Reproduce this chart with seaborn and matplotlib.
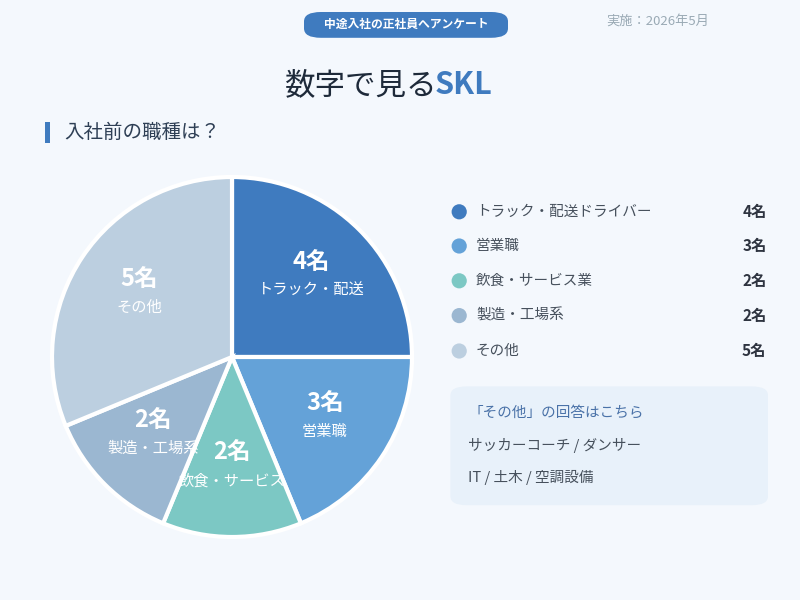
import numpy as np
import matplotlib
matplotlib.use("Agg")
import matplotlib.pyplot as plt
from matplotlib.patches import FancyBboxPatch, Ellipse
import seaborn as sns

categories = ["トラック・配送ドライバー", "営業職", "飲食・サービス業", "製造・工場系", "その他"]
short_labels = ["トラック・配送", "営業職", "飲食・サービス", "製造・工場系", "その他"]
values = [4, 3, 2, 2, 5]
colors = ["#3f7bbf", "#64a2d8", "#7cc8c4", "#9bb7d1", "#bccfe0"]
others = ["サッカーコーチ / ダンサー", "IT / 土木 / 空調設備"]

sns.set_theme(style="white")
plt.rcParams['font.family'] = ['Noto Sans CJK JP', 'DejaVu Sans']

bg = "#f4f8fd"
fig = plt.figure(figsize=(8, 6), dpi=100, facecolor=bg)

# header
fig.patches.append(FancyBboxPatch((0.38, 0.937), 0.255, 0.043, boxstyle="round,pad=0,rounding_size=0.021",
                                  transform=fig.transFigure, facecolor="#3f7bbf", edgecolor="none",
                                  mutation_aspect=0.75))
fig.text(0.5075, 0.959, "中途入社の正社員へアンケート", color="white", fontsize=8.5, ha="center", va="center", weight="bold")
fig.text(0.758, 0.965, "実施：2026年5月", color="#9aaab5", fontsize=9.5, ha="left", va="center")
t1 = fig.text(0.356, 0.858, "数字で見る", color="#1e2a3a", fontsize=22, ha="left", va="center")
fig.canvas.draw()
bb = t1.get_window_extent()
fig.text(bb.x1 / 800 - 0.003, 0.858, "SKL", color="#3f7bbf", fontsize=22, ha="left", va="center", weight="bold")

fig.patches.append(plt.Rectangle((0.056, 0.762), 0.007, 0.035, transform=fig.transFigure,
                                 facecolor="#3f7bbf", edgecolor="none"))
fig.text(0.08, 0.779, "入社前の職種は？", color="#2e3f55", fontsize=14, ha="left", va="center")

# pie
ax = fig.add_axes([0.065, 0.105, 0.45, 0.6])
ax.set_facecolor(bg)
wedges, _ = ax.pie(values, colors=colors, startangle=90, counterclock=False,
                   wedgeprops=dict(edgecolor="white", linewidth=3, clip_on=False))
ax.set_xlim(-1, 1)
ax.set_ylim(-1, 1)
ax.set_aspect("equal")
ax.axis("off")
total = sum(values)
ang = 90.0
for v, lab in zip(values, short_labels):
    mid = np.deg2rad(ang - v / total * 180)
    ang -= v / total * 360
    r = 0.62
    x, y = r * np.cos(mid), r * np.sin(mid)
    ax.text(x, y + 0.09, f"{v}名", color="white", fontsize=17, weight="bold", ha="center", va="center")
    ax.text(x, y - 0.07, lab, color="white", fontsize=11, ha="center", va="center")

# legend
ys = [0.647, 0.59, 0.532, 0.474, 0.415]
for c, cat, v, y in zip(colors, categories, values, ys):
    fig.patches.append(Ellipse((0.574, y), 0.019, 0.0253, transform=fig.transFigure, facecolor=c,
                               edgecolor="none"))
    fig.text(0.595, y, cat, color="#46505c", fontsize=10.5, ha="left", va="center")
    fig.text(0.958, y, f"{v}名", color="#2e3440", fontsize=11, ha="right", va="center", weight="bold")

fig.patches.append(FancyBboxPatch((0.563, 0.158), 0.397, 0.198, boxstyle="round,pad=0,rounding_size=0.02",
                                  transform=fig.transFigure, facecolor="#e8f1fa", edgecolor="none",
                                  mutation_aspect=0.75))
fig.text(0.585, 0.313, "「その他」の回答はこちら", color="#4a72a8", fontsize=10.5, ha="left", va="center")
fig.text(0.585, 0.257, others[0], color="#46505c", fontsize=10.5, ha="left", va="center")
fig.text(0.585, 0.205, others[1], color="#46505c", fontsize=10.5, ha="left", va="center")

fig.savefig("out.png", dpi=100, facecolor=bg)
